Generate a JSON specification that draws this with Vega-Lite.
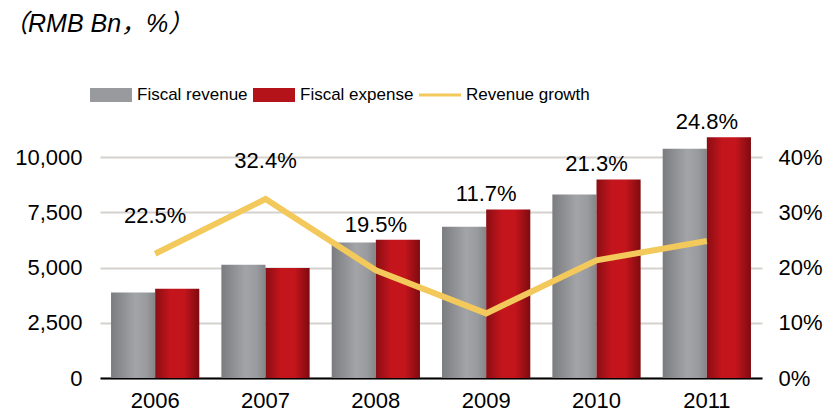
{
  "$schema": "https://vega.github.io/schema/vega-lite/v6.json",
  "width": 662,
  "height": 243,
  "autosize": {"type": "none"},
  "padding": {"left": 100, "top": 135, "right": 63, "bottom": 38},
  "background": "white",
  "title": {
    "text": "（RMB Bn，%）",
    "anchor": "start",
    "frame": "group",
    "font": "Liberation Sans, Noto Sans CJK SC",
    "fontSize": 25,
    "fontStyle": "italic",
    "fontWeight": "normal",
    "color": "#000000",
    "dx": -97,
    "offset": 37
  },
  "config": {
    "font": "Liberation Sans",
    "view": {"stroke": null},
    "legend": {
      "orient": "none",
      "legendX": -10,
      "legendY": -61,
      "direction": "horizontal",
      "symbolSize": 1764,
      "symbolStrokeWidth": 0,
      "symbolOpacity": 1,
      "labelFont": "Liberation Sans",
      "labelFontSize": 17,
      "labelColor": "#000000",
      "labelOffset": 5,
      "columnPadding": 5,
      "labelLimit": 300
    }
  },
  "data": {
    "values": [
      {"year": "2006", "Fiscal revenue": 3876, "Fiscal expense": 4042, "Revenue growth": 22.5},
      {"year": "2007", "Fiscal revenue": 5132, "Fiscal expense": 4978, "Revenue growth": 32.4},
      {"year": "2008", "Fiscal revenue": 6133, "Fiscal expense": 6259, "Revenue growth": 19.5},
      {"year": "2009", "Fiscal revenue": 6852, "Fiscal expense": 7630, "Revenue growth": 11.7},
      {"year": "2010", "Fiscal revenue": 8310, "Fiscal expense": 8987, "Revenue growth": 21.3},
      {"year": "2011", "Fiscal revenue": 10374, "Fiscal expense": 10893, "Revenue growth": 24.8}
    ]
  },
  "layer": [
    {
      "layer": [
        {
          "transform": [{"fold": ["Fiscal revenue", "Fiscal expense"], "as": ["series", "value"]}],
          "mark": {"type": "bar"},
          "encoding": {
            "x": {
              "field": "year", "type": "nominal",
              "scale": {"paddingInner": 0.2, "paddingOuter": 0.1},
              "axis": {
                "title": null, "labelAngle": 0, "labelFontSize": 22, "labelColor": "#000000",
                "labelPadding": 12, "ticks": false, "domain": true, "domainColor": "#000000", "domainWidth": 2
              }
            },
            "xOffset": {
              "field": "series", "type": "nominal",
              "scale": {"domain": ["Fiscal revenue", "Fiscal expense"], "paddingInner": 0, "paddingOuter": 0}
            },
            "y": {
              "field": "value", "type": "quantitative",
              "scale": {"domain": [0, 11000], "nice": false},
              "axis": {
                "title": null, "values": [0, 2500, 5000, 7500, 10000], "format": ",.0f",
                "labelFontSize": 22, "labelColor": "#000000", "labelPadding": 18,
                "ticks": false, "domain": false, "grid": true, "gridColor": "#d5d1cd", "gridWidth": 2
              }
            },
            "fill": {
              "condition": {
                "test": "datum.series === 'Fiscal revenue'",
                "value": {
                  "gradient": "linear", "x1": 0, "x2": 1, "y1": 0, "y2": 0,
                  "stops": [
                    {"offset": 0, "color": "#7b7c80"},
                    {"offset": 0.55, "color": "#a3a4a8"},
                    {"offset": 0.8, "color": "#9a9b9f"},
                    {"offset": 1, "color": "#848589"}
                  ]
                }
              },
              "value": {
                "gradient": "linear", "x1": 0, "x2": 1, "y1": 0, "y2": 0,
                "stops": [
                  {"offset": 0, "color": "#8a0e14"},
                  {"offset": 0.35, "color": "#c4151c"},
                  {"offset": 0.65, "color": "#c4151c"},
                  {"offset": 1, "color": "#7e0b10"}
                ]
              }
            }
          }
        },
        {
          "transform": [{"fold": ["Fiscal revenue", "Fiscal expense", "Revenue growth"], "as": ["series", "value"]}],
          "mark": {"type": "point", "filled": true, "opacity": 0},
          "encoding": {
            "x": {"field": "year", "type": "nominal"},
            "color": {
              "field": "series", "type": "nominal",
              "scale": {"domain": ["Fiscal revenue", "Fiscal expense", "Revenue growth"], "range": ["#999a9e", "#b5131a", "#f3c95c"]},
              "legend": {
                "title": null,
                "encode": {
                  "symbols": {
                    "update": {
                      "opacity": {"value": 1},
                      "fill": [
                        {
                          "test": "datum.value === 'Fiscal revenue'",
                          "value": {
                            "gradient": "linear", "x1": 0, "x2": 1, "y1": 0, "y2": 0,
                            "stops": [
                              {"offset": 0, "color": "#7b7c80"},
                              {"offset": 0.55, "color": "#a3a4a8"},
                              {"offset": 1, "color": "#848589"}
                            ]
                          }
                        },
                        {
                          "test": "datum.value === 'Fiscal expense'",
                          "value": {
                            "gradient": "linear", "x1": 0, "x2": 1, "y1": 0, "y2": 0,
                            "stops": [
                              {"offset": 0, "color": "#8a0e14"},
                              {"offset": 0.4, "color": "#c4151c"},
                              {"offset": 1, "color": "#7e0b10"}
                            ]
                          }
                        },
                        {"value": "#f3c95c"}
                      ]
                    }
                  }
                }
              }
            },
            "shape": {
              "field": "series", "type": "nominal",
              "scale": {
                "domain": ["Fiscal revenue", "Fiscal expense", "Revenue growth"],
                "range": ["M-1,-0.33H1V0.33H-1Z", "M-1,-0.33H1V0.33H-1Z", "M-1,-0.07H1V0.07H-1Z"]
              },
              "legend": {"title": null}
            }
          }
        }
      ]
    },
    {
      "transform": [
        {"calculate": "max(datum['Revenue growth'], datum['Fiscal revenue'] / 250, datum['Fiscal expense'] / 250)", "as": "labelAnchor"},
        {"calculate": "format(datum['Revenue growth'], '.1f') + '%'", "as": "label"}
      ],
      "layer": [
        {
          "mark": {"type": "line", "color": "#f3c95c", "strokeWidth": 6},
          "encoding": {
            "x": {"field": "year", "type": "nominal"},
            "y": {
              "field": "Revenue growth", "type": "quantitative",
              "scale": {"domain": [0, 44], "nice": false},
              "axis": {
                "orient": "right", "title": null, "values": [0, 10, 20, 30, 40],
                "labelExpr": "datum.value + '%'",
                "labelFontSize": 22, "labelColor": "#000000", "labelPadding": 16,
                "ticks": false, "domain": false, "grid": false
              }
            }
          }
        },
        {
          "transform": [{"filter": "datum['Revenue growth'] === datum.labelAnchor"}],
          "mark": {"type": "text", "fontSize": 22, "color": "#000000", "baseline": "middle", "dy": -38},
          "encoding": {
            "x": {"field": "year", "type": "nominal"},
            "y": {"field": "labelAnchor", "type": "quantitative"},
            "text": {"field": "label", "type": "nominal"}
          }
        },
        {
          "transform": [{"filter": "datum['Revenue growth'] !== datum.labelAnchor"}],
          "mark": {"type": "text", "fontSize": 22, "color": "#000000", "baseline": "middle", "dy": -15},
          "encoding": {
            "x": {"field": "year", "type": "nominal"},
            "y": {"field": "labelAnchor", "type": "quantitative"},
            "text": {"field": "label", "type": "nominal"}
          }
        }
      ]
    }
  ],
  "resolve": {"scale": {"y": "independent"}}
}
